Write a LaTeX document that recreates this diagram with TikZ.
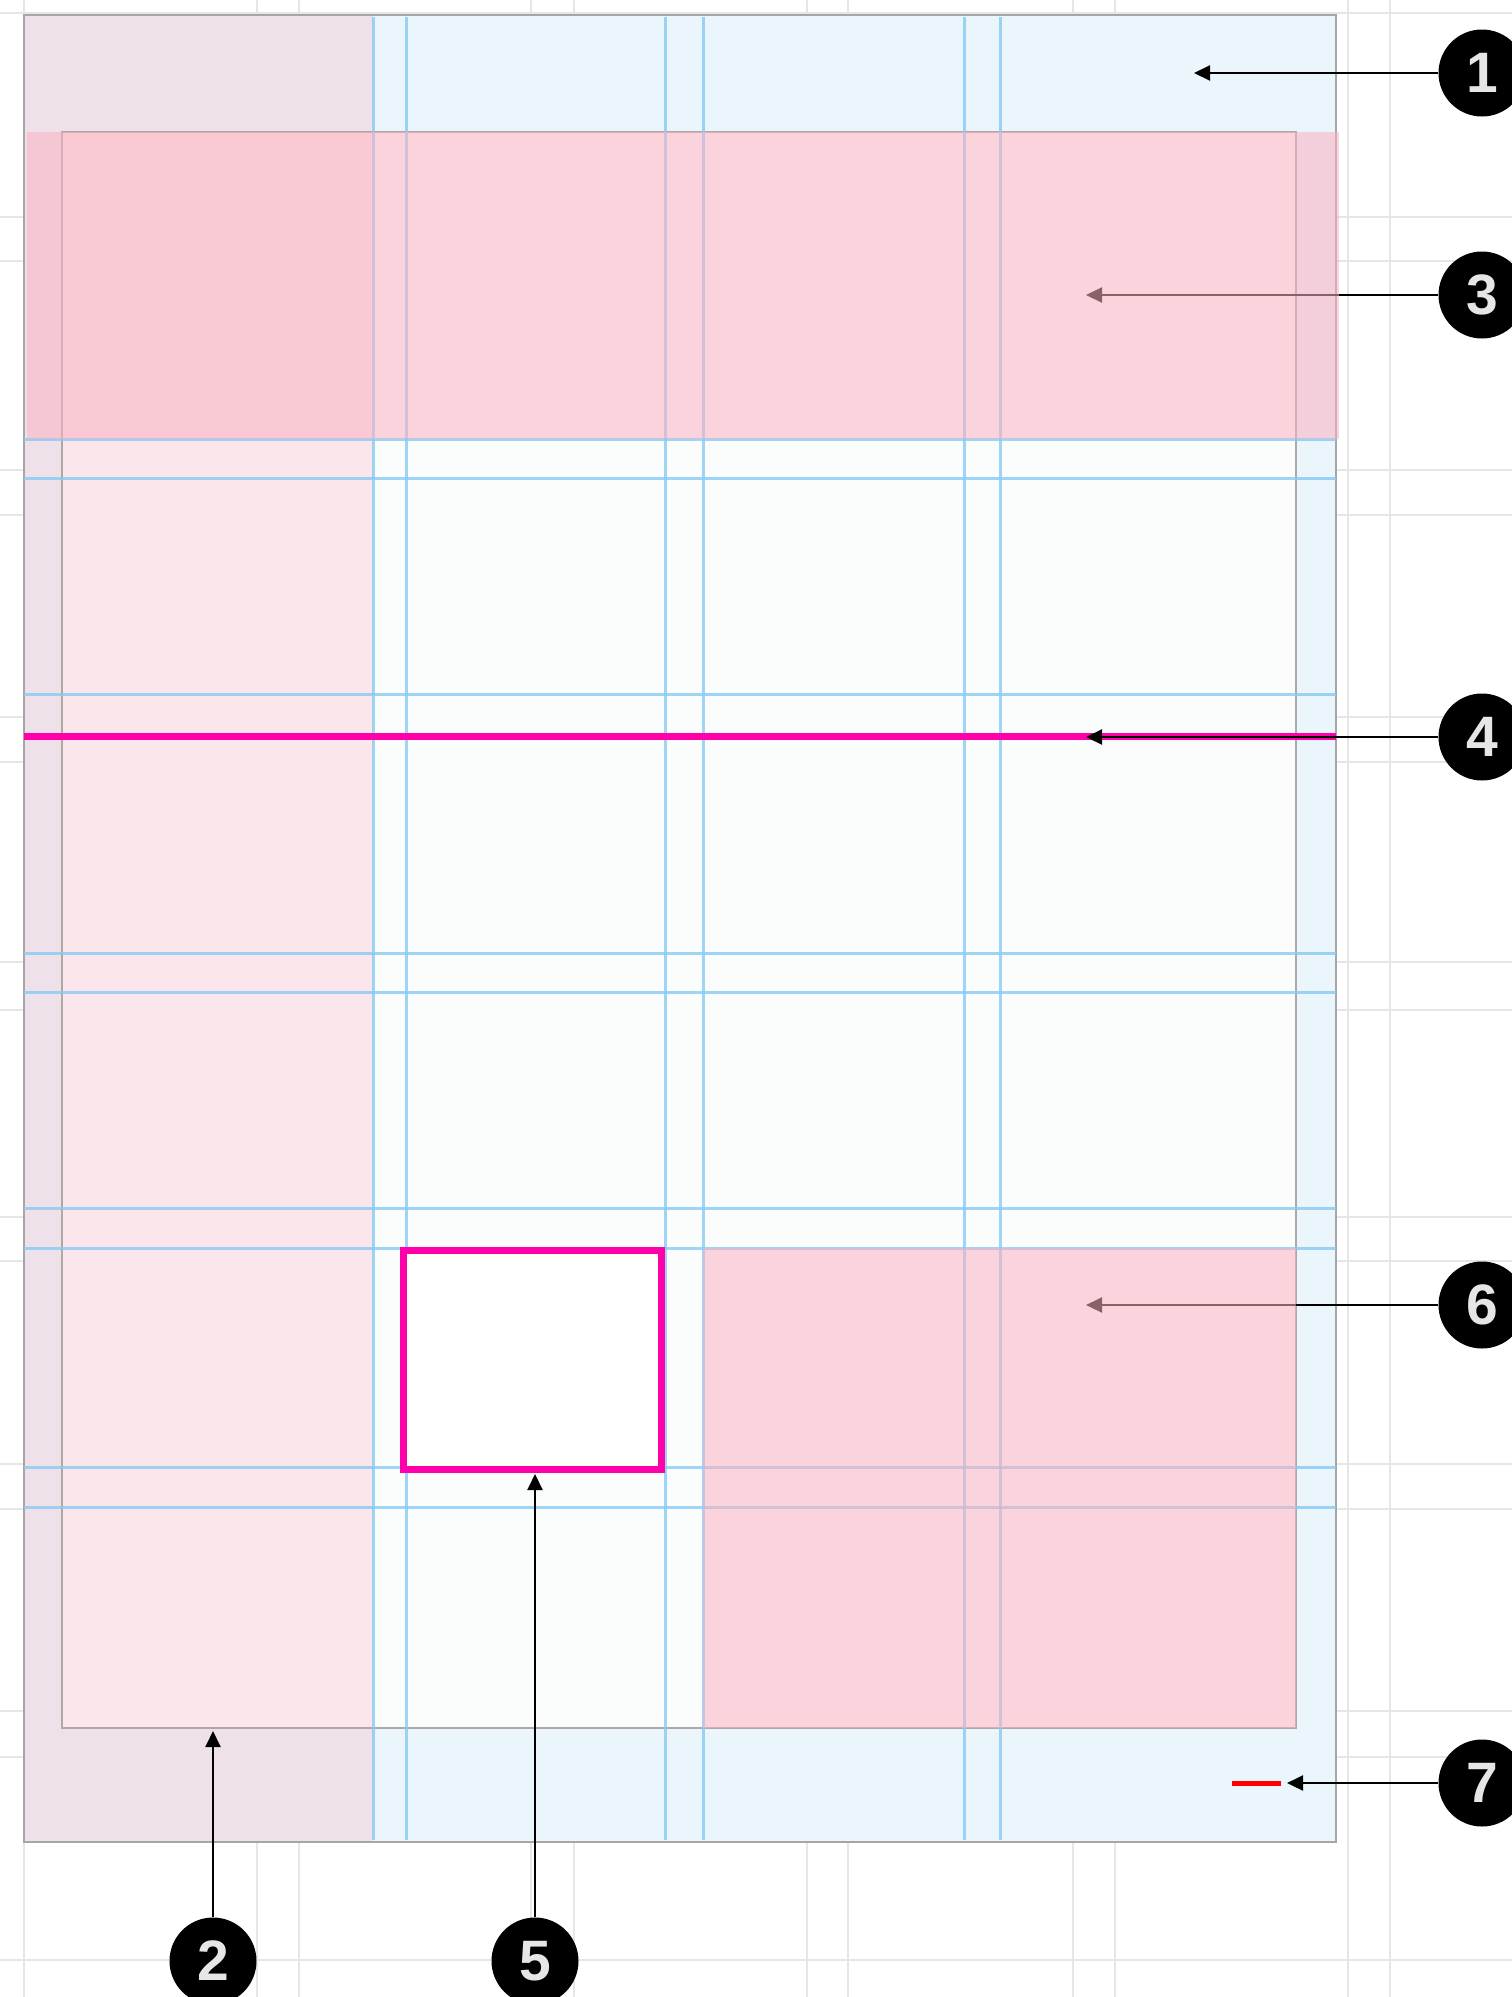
\documentclass[tikz,border=0pt]{standalone}
\usepackage{fontspec}
\setmainfont{Liberation Sans}
\usetikzlibrary{arrows.meta}
\definecolor{pagebg}{HTML}{EAF5FC}
\definecolor{colbg}{HTML}{EFE1EA}
\definecolor{marginbg}{HTML}{FBFDFD}
\definecolor{colmargin}{HTML}{FBE7EB}
\definecolor{bandpink}{RGB}{251,177,193}
\definecolor{guide}{RGB}{135,202,245}
\definecolor{bggrid}{HTML}{E6E6E6}
\definecolor{pageedge}{RGB}{166,166,166}
\definecolor{marginedge}{RGB}{176,168,164}
\definecolor{hot}{RGB}{255,0,170}
\definecolor{digit}{HTML}{E6E6E6}
\tikzset{
  badge/.style={circle,fill=black,minimum size=87pt,inner sep=0pt,text=digit,
    font=\fontsize{57}{57}\selectfont\bfseries},
  callout/.style={line width=2.2pt,-{Triangle[length=16pt,width=15pt]}},
  guideline/.style={guide,line width=3pt,opacity=.8},
  band/.style={fill=bandpink,fill opacity=.55},
}

\begin{document}
\begin{tikzpicture}[x=1pt,y=-1pt]
\useasboundingbox (0,0) rectangle (1512,1997);
\fill [white] (0,0) rectangle (1512,1997);
% background grid
\foreach \x in {24,257,299,531,574,807,848,1073,1115,1348,1390}
  \draw [bggrid,line width=2.5pt] (\x,0) -- (\x,1997);
\foreach \y in {13,217,261,470,515,717,762,962,1010,1217,1261,1464,1509,1711,1757,1960}
  \draw [bggrid,line width=2.5pt] (0,\y) -- (1512,\y);
% page, first column, margins
\fill [pagebg] (24,15) rectangle (1336,1842);
\fill [colbg] (24,15) rectangle (373,1842);
\fill [marginbg] (62,132) rectangle (1296,1728);
\fill [colmargin] (62,132) rectangle (373,1728);
\draw [pageedge,line width=2pt] (24,15) rectangle (1336,1842);
\draw [marginedge,line width=2pt] (62,132) rectangle (1296,1728);
% column and row guides
\foreach \x in {373,406,665,703,964,1000}
  \draw [guideline] (\x,17) -- (\x,1840);
\foreach \y in {439,478,694,734,953,992,1208,1248,1467,1507}
  \draw [guideline] (24,\y) -- (1336,\y);
% badges
\node [badge] (b1) at (1482,73) {1};
\node [badge] (b2) at (213,1961) {2};
\node [badge] (b3) at (1482,295) {3};
\node [badge] (b4) at (1482,737) {4};
\node [badge] (b5) at (535,1961) {5};
\node [badge] (b6) at (1482,1305) {6};
\node [badge] (b7) at (1482,1783) {7};
\coordinate (t1) at (1194,73);
\coordinate (t2) at (213,1731);
\coordinate (t3) at (1086,295);
\coordinate (t4) at (1086,737);
\coordinate (t5) at (535,1474);
\coordinate (t6) at (1086,1305);
\coordinate (t7) at (1287,1783);
% arrows under the pink areas
\draw [callout] (b3) -- (t3);
\draw [callout] (b6) -- (t6);
% pink areas
\fill [band] (27,132) rectangle (1339,439);
\fill [band] (703,1248) rectangle (1296,1728);
% baseline, box, red mark
\draw [hot,line width=7pt] (24,736.5) -- (1336,736.5);
\draw [hot,line width=7pt,fill=white] (403.5,1250.5) rectangle (661.5,1469.5);
\draw [red,line width=5pt] (1232,1783) -- (1281,1783);
% other arrows
\draw [callout] (b1) -- (t1);
\draw [callout] (b2) -- (t2);
\draw [callout] (b4) -- (t4);
\draw [callout] (b5) -- (t5);
\draw [callout] (b7) -- (t7);
\end{tikzpicture}
\end{document}
